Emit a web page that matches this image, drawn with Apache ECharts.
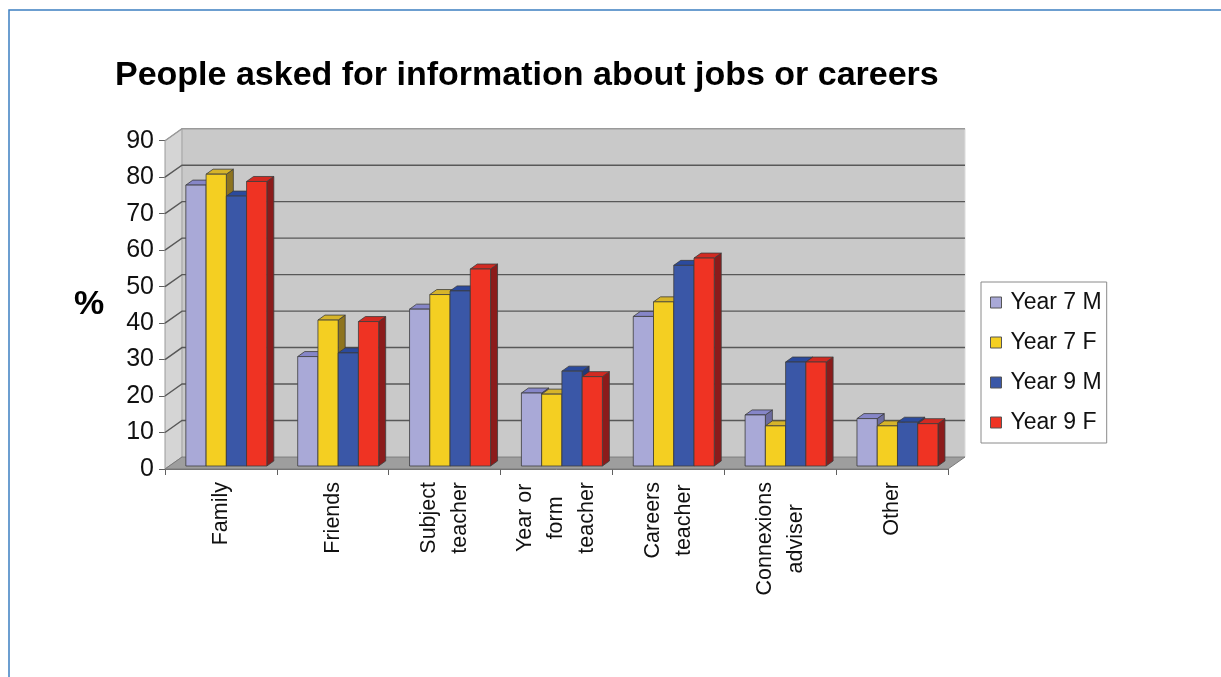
<!DOCTYPE html>
<html>
<head>
<meta charset="utf-8">
<title>People asked for information about jobs or careers</title>
<script src="https://cdn.jsdelivr.net/npm/echarts@6/dist/echarts.min.js"></script>
<style>
  html, body { margin: 0; padding: 0; background: #ffffff; }
  #chart { width: 1221px; height: 677px; }
</style>
</head>
<body>
<div id="chart"></div>
<script>
// Survey answers, percent of each year group
const categories = ['Family', 'Friends', 'Subject\nteacher', 'Year or\nform\nteacher', 'Careers\nteacher', 'Connexions\nadviser', 'Other'];
const seriesNames = ['Year 7 M', 'Year 7 F', 'Year 9 M', 'Year 9 F'];
const year7M = [77, 30, 43, 20, 41, 14, 13];
const year7F = [80, 40, 47, 19.7, 45, 11, 11];
const year9M = [74, 31, 48, 26, 55, 28.5, 12];
const year9F = [78, 39.6, 54, 24.5, 57, 28.5, 11.6];
const yTicks = [0, 10, 20, 30, 40, 50, 60, 70, 80, 90];

const FONT = '"Liberation Sans", Arial, Helvetica, sans-serif';

// Oblique projection: how far the back wall sits behind the front plane,
// where the bar fronts sit, and how deep each bar is.
const WALL_D = [17, -12];
const BAR_FRONT = [5.4, -3];
const BAR_D = [7, -5];
const BAR_FRAC = 0.181;

// face colours: [front, top, side]
const palette = [
  ['#a9a9d7', '#8686c8', '#6c6ca0'],
  ['#f4cf22', '#d6b42a', '#8e741f'],
  ['#3a57a7', '#2b4a9d', '#22397a'],
  ['#ef3323', '#d22a22', '#8b1b1b']
];
const EDGE = '#3c3c3c';

function wallsRenderer(params, api) {
  const cs = params.coordSys;
  const x0 = cs.x, x1 = cs.x + cs.width;
  const yTop = cs.y, yBot = cs.y + cs.height;
  const dx = WALL_D[0], dy = WALL_D[1];
  const children = [];
  // back wall
  children.push({
    type: 'rect',
    shape: { x: x0 + dx, y: yTop + dy, width: cs.width, height: cs.height },
    style: { fill: '#c9c9c9', stroke: '#dcdcdc', lineWidth: 1 }
  });
  // left side wall
  children.push({
    type: 'polygon',
    shape: { points: [[x0, yTop], [x0 + dx, yTop + dy], [x0 + dx, yBot + dy], [x0, yBot]] },
    style: { fill: '#d5d5d5', stroke: '#9a9a9a', lineWidth: 1 }
  });
  // gridlines running across the side wall and the back wall
  yTicks.forEach(function (t) {
    if (t === 0) return;
    const y = api.coord([0, t])[1];
    children.push({
      type: 'polyline',
      shape: { points: [[x0, y], [x0 + dx, y + dy], [x1 + dx, y + dy]] },
      style: { stroke: t === yTicks[yTicks.length - 1] ? '#9a9a9a' : '#585858', lineWidth: 1.4, fill: null }
    });
  });
  // floor
  children.push({
    type: 'polygon',
    shape: { points: [[x0, yBot], [x0 + dx, yBot + dy], [x1 + dx, yBot + dy], [x1, yBot]] },
    style: { fill: '#9e9e9e', stroke: '#7a7a7a', lineWidth: 1 }
  });
  return { type: 'group', children: children, silent: true };
}

function makeBarRenderer(k) {
  const cols = palette[k];
  return function (params, api) {
    const ci = api.value(0);
    const v = api.value(1);
    const base = api.coord([ci, 0]);
    const top = api.coord([ci, v]);
    const catW = api.size([1, 0])[0];
    const bw = catW * BAR_FRAC;
    const xl = base[0] + BAR_FRONT[0] - 2 * bw + k * bw;
    const xr = xl + bw;
    const yb = base[1] + BAR_FRONT[1];
    const yt = top[1] + BAR_FRONT[1];
    const dx = BAR_D[0], dy = BAR_D[1];
    return {
      type: 'group',
      children: [
        {
          type: 'polygon',
          shape: { points: [[xr, yt], [xr + dx, yt + dy], [xr + dx, yb + dy], [xr, yb]] },
          style: { fill: cols[2], stroke: EDGE, lineWidth: 0.8 }
        },
        {
          type: 'polygon',
          shape: { points: [[xl, yt], [xr, yt], [xr + dx, yt + dy], [xl + dx, yt + dy]] },
          style: { fill: cols[1], stroke: EDGE, lineWidth: 0.8 }
        },
        {
          type: 'rect',
          shape: { x: xl, y: yt, width: bw, height: yb - yt },
          style: { fill: cols[0], stroke: EDGE, lineWidth: 0.8 }
        }
      ]
    };
  };
}

const seriesValues = [year7M, year7F, year9M, year9F];

const series = [{
  name: 'walls',
  type: 'custom',
  renderItem: wallsRenderer,
  data: [[0, 0]],
  encode: { x: 0, y: 1 },
  silent: true,
  z: 1
}];
seriesValues.forEach(function (vals, k) {
  series.push({
    name: seriesNames[k],
    type: 'custom',
    renderItem: makeBarRenderer(k),
    data: vals.map(function (v, i) { return [i, v]; }),
    encode: { x: 0, y: 1 },
    itemStyle: { color: palette[k][0] },
    z: 2 + k
  });
});

const chart = echarts.init(document.getElementById('chart'), null, { renderer: 'canvas' });
chart.setOption({
  animation: false,
  backgroundColor: '#ffffff',
  textStyle: { fontFamily: FONT },
  graphic: [{
    type: 'rect',
    shape: { x: 9, y: 10, width: 1250, height: 700 },
    style: { fill: null, stroke: '#3d7fc1', lineWidth: 1.5 },
    silent: true,
    z: 0
  }],
  title: [{
    text: 'People asked for information about jobs or careers',
    left: 115,
    top: 59,
    padding: 0,
    textStyle: { fontFamily: FONT, fontSize: 34, fontWeight: 'bold', color: '#000000' }
  }, {
    text: '%',
    left: 74,
    top: 288,
    padding: 0,
    textStyle: { fontFamily: FONT, fontSize: 34, fontWeight: 'bold', color: '#000000' }
  }],
  legend: {
    data: seriesNames,
    orient: 'vertical',
    left: 981,
    top: 282,
    padding: [9, 5, 9, 9],
    backgroundColor: '#ffffff',
    borderColor: '#8a8a8a',
    borderWidth: 1,
    icon: 'rect',
    itemWidth: 11,
    itemHeight: 11,
    itemGap: 17,
    itemStyle: { borderColor: '#555555', borderWidth: 1 },
    textStyle: { fontFamily: FONT, fontSize: 23, color: '#111111', padding: [0, 0, 0, 4] }
  },
  grid: {
    left: 165,
    right: 273,
    top: 140.7,
    bottom: 208,
    containLabel: false
  },
  xAxis: {
    type: 'category',
    data: categories,
    boundaryGap: true,
    axisLine: { show: true, lineStyle: { color: '#707070', width: 1 } },
    axisTick: { show: true, length: 6, lineStyle: { color: '#606060' } },
    axisLabel: {
      rotate: 90,
      margin: 13,
      interval: 0,
      color: '#111111',
      fontFamily: FONT,
      fontSize: 21.5,
      lineHeight: 31,
      formatter: function (val) {
        return val.split('\n').map(function (s) { return '{c|' + s + '}'; }).join('\n');
      },
      rich: {
        c: { align: 'center', fontFamily: FONT, fontSize: 21.5, lineHeight: 31, color: '#111111' }
      }
    },
    splitLine: { show: false }
  },
  yAxis: {
    type: 'value',
    min: 0,
    max: 90,
    interval: 10,
    axisLine: { show: true, lineStyle: { color: '#707070', width: 1 } },
    axisTick: { show: true, length: 6, lineStyle: { color: '#606060' } },
    axisLabel: {
      margin: 11,
      color: '#111111',
      fontFamily: FONT,
      fontSize: 25,
      formatter: function (v) { return yTicks.indexOf(v) >= 0 ? String(v) : ''; }
    },
    splitLine: { show: false }
  },
  series: series
});
</script>
</body>
</html>
